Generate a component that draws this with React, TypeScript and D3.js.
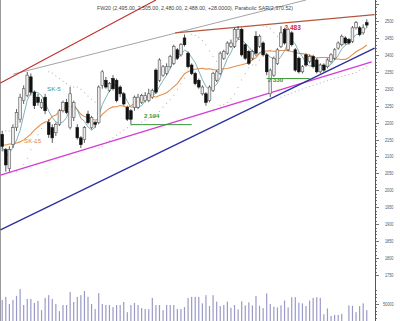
import React from "react";
import * as d3 from "d3";

// ---- data ----
const opens = [2165,2120,2065,2135,2185,2210,2265,2280,2335,2290,2275,2245,2275,2200,2185,2170,2195,2235,2260,2185,2215,2185,2155,2150,2225,2185,2200,2200,2310,2325,2295,2330,2325,2305,2285,2245,2235,2245,2245,2260,2265,2265,2275,2355,2325,2340,2345,2365,2375,2415,2400,2450,2405,2370,2345,2325,2285,2285,2265,2295,2325,2345,2390,2405,2425,2425,2450,2475,2430,2410,2390,2455,2425,2435,2400,2285,2340,2375,2425,2475,2415,2465,2415,2390,2350,2400,2380,2395,2385,2350,2370,2365,2380,2390,2420,2430,2450,2445,2440,2480,2480,2465,2495];
const highs = [2175,2125,2130,2195,2240,2285,2310,2350,2345,2295,2285,2270,2285,2210,2195,2200,2240,2265,2270,2305,2265,2195,2160,2190,2235,2220,2205,2310,2355,2335,2320,2340,2330,2310,2290,2250,2240,2280,2285,2285,2290,2300,2300,2360,2390,2370,2375,2400,2430,2420,2435,2460,2410,2375,2350,2330,2310,2290,2310,2350,2355,2410,2415,2440,2445,2480,2485,2480,2435,2415,2415,2470,2460,2440,2405,2360,2395,2420,2485,2480,2480,2470,2420,2395,2370,2405,2400,2400,2390,2375,2375,2390,2405,2420,2440,2460,2455,2450,2485,2500,2485,2490,2505];
const lows = [2115,2055,2055,2125,2175,2200,2255,2275,2280,2240,2250,2240,2225,2155,2140,2160,2190,2230,2225,2180,2205,2150,2125,2140,2195,2180,2185,2195,2300,2300,2290,2295,2260,2275,2250,2205,2195,2235,2240,2255,2260,2260,2270,2285,2320,2335,2340,2360,2370,2385,2395,2425,2360,2340,2310,2300,2280,2250,2260,2290,2320,2340,2385,2400,2420,2420,2445,2395,2385,2370,2385,2400,2420,2395,2340,2275,2335,2370,2420,2430,2410,2425,2350,2345,2345,2365,2375,2360,2345,2345,2350,2360,2375,2385,2415,2425,2430,2430,2435,2475,2455,2460,2480];
const closes = [2130,2075,2120,2185,2230,2275,2300,2340,2290,2250,2260,2260,2235,2165,2155,2195,2235,2260,2230,2285,2260,2155,2135,2185,2200,2215,2195,2305,2350,2305,2315,2300,2265,2285,2255,2210,2210,2275,2275,2280,2280,2285,2295,2290,2385,2365,2365,2395,2425,2390,2430,2430,2365,2345,2315,2305,2305,2260,2305,2345,2350,2405,2410,2435,2435,2475,2475,2400,2390,2375,2410,2405,2455,2400,2350,2355,2390,2415,2465,2435,2475,2430,2355,2350,2365,2370,2395,2365,2350,2370,2355,2385,2400,2415,2435,2455,2435,2435,2480,2495,2460,2480,2488];
const volumes = [62000,71000,50000,62000,74000,94000,47000,65000,65000,53000,59000,32000,68000,76000,65000,50000,29000,47000,47000,85000,56000,71000,76000,88000,71000,50000,35000,82000,50000,47000,47000,41000,47000,47000,56000,26000,47000,53000,47000,38000,35000,35000,68000,47000,47000,32000,47000,47000,47000,35000,35000,41000,68000,71000,71000,71000,52000,76000,44000,76000,57000,44000,47000,57000,39000,47000,34000,58000,46000,55000,46000,74000,45000,38000,81000,50000,42000,40000,46000,60000,40000,70000,70000,54000,52000,44000,60000,68000,70000,68000,20000,37000,15000,18000,18000,21000,0,46000,45000,26000,44000,52000,32000];
// SK-15 values for the first candles (history before the visible window)
const ma15Lead = [2134,2134,2137,2137,2140,2143,2149,2157,2166,2178,2187,2196,2202,2205];
const priceTicks = [2500,2450,2400,2350,2300,2250,2200,2150,2100,2050,2000,1950,1900,1850,1800,1750];
const volumeTicks = [50000];
const titleText = "FW20 (2,495.00, 2,505.00, 2,480.00, 2,488.00, +28.0000), Parabolic SAR(2,370.52)";
// trend lines: [index, price] endpoints
const trendRed = [[-0.5, 2317], [43, 2562]];
const trendGray = [[3.1, 2343], [85, 2562]];
const trendBrown = [[48.4, 2465], [104.2, 2519]];
const trendBlue = [[-0.5, 1883], [104.2, 2420]];
const trendMagenta = [[-0.5, 2045], [103.4, 2379]];
const support1 = { level: 2194, from: 36, to: 53, label: "2 194" };
const support2 = { level: 2330, from: 74, to: 86, label: "2 330" };
const resistLabel = { level: 2483, at: 79, label: "2 483" };

function sma(vals: number[], n: number, lead?: number[]) {
  return vals.map((_, i) => {
    if (i < n - 1) {
      if (lead && i < lead.length) return lead[i];
      const s = vals.slice(0, i + 1);
      return d3.mean(s) as number;
    }
    return d3.mean(vals.slice(i - n + 1, i + 1)) as number;
  });
}

function psar(high: number[], low: number[], step = 0.02, max = 0.2) {
  const out: number[] = [];
  let up = false;
  let af = step;
  let ep = low[0];
  let sar = high[0];
  out.push(sar);
  for (let i = 1; i < high.length; i++) {
    sar = sar + af * (ep - sar);
    if (up) {
      sar = Math.min(sar, low[i - 1], i > 1 ? low[i - 2] : low[i - 1]);
      if (low[i] < sar) { up = false; sar = ep; ep = low[i]; af = step; }
      else if (high[i] > ep) { ep = high[i]; af = Math.min(af + step, max); }
    } else {
      sar = Math.max(sar, high[i - 1], i > 1 ? high[i - 2] : high[i - 1]);
      if (high[i] > sar) { up = true; sar = ep; ep = high[i]; af = step; }
      else if (low[i] < ep) { ep = low[i]; af = Math.min(af + step, max); }
    }
    out.push(sar);
  }
  return out;
}

export default function App() {
  const W = 400, H = 321;
  const n = closes.length;
  const idx = d3.range(n);
  const xb = d3.scaleBand<number>().domain(idx).range([0, 369]).padding(0.25);
  const step = xb.step();
  const xc = (i: number) => (xb(0) as number) + xb.bandwidth() / 2 + i * step;
  const y = d3.scaleLinear().domain([1750, 2500]).range([275, 21]);
  const yv = d3.scaleLinear().domain([0, 50000]).range([321, 304]);
  const axisX = 375;

  const ma5 = sma(closes, 5);
  const ma15 = sma(closes, 15, ma15Lead);
  const sar = psar(highs, lows);

  const line = d3.line<number>().x((_, i) => xc(i)).y((d) => y(d));
  const seg = (p: number[][]) => ({ x1: xc(p[0][0]), y1: y(p[0][1]), x2: xc(p[1][0]), y2: y(p[1][1]) });

  const font = "'Liberation Sans', Arial, sans-serif";
  const minor = d3.range(1750, 2561, 10);
  const vMinor = d3.range(0, 90001, 10000);

  return (
    <svg width={W} height={H} style={{ position: "absolute", left: 0, top: 0, background: "#fff" }} fontFamily={font}>
      <rect width={W} height={H} fill="#fff" />
      {/* left frame */}
      <line x1={0.5} x2={0.5} y1={0} y2={H} stroke="#9a9a9a" strokeWidth={1} />
      {/* volume */}
      {volumes.map((v, i) => (
        <rect key={"v" + i} x={xc(i) - 0.6} y={yv(v)} width={1.2} height={Math.max(0, yv(0) - yv(v))} fill="#9a9ac8" />
      ))}
      {/* trend lines */}
      <line {...seg(trendMagenta)} stroke="#d63ad6" strokeWidth={1.3} />
      <line {...seg(trendBlue)} stroke="#2b2fa0" strokeWidth={1.3} />
      <line {...seg(trendGray)} stroke="#9a9a9a" strokeWidth={0.9} />
      <line {...seg(trendRed)} stroke="#c0302a" strokeWidth={1.1} />
      <line {...seg(trendBrown)} stroke="#b3583e" strokeWidth={1.3} />
      {/* parabolic SAR */}
      {sar.map((s, i) => (
        <rect key={"s" + i} x={xc(i) - 0.5} y={y(s) - 0.5} width={1} height={1} fill="#b0b0b0" />
      ))}
      {/* moving averages */}
      <path d={line(ma15) || ""} fill="none" stroke="#e4914e" strokeWidth={1.1} />
      <path d={line(ma5) || ""} fill="none" stroke="#5f9ea6" strokeWidth={0.8} />
      {/* candles */}
      {closes.map((c, i) => {
        const o = opens[i];
        const up = c >= o;
        const top = y(Math.max(o, c));
        const bot = y(Math.min(o, c));
        const bw = xb.bandwidth();
        return (
          <g key={"c" + i}>
            <line x1={xc(i)} x2={xc(i)} y1={y(highs[i])} y2={y(lows[i])} stroke="#333" strokeWidth={0.8} />
            <rect x={xc(i) - bw / 2} y={top} width={bw} height={Math.max(0.8, bot - top)}
              fill={up ? "#ececec" : "#111"} stroke={up ? "#555" : "#111"} strokeWidth={0.6} />
          </g>
        );
      })}
      {/* support / resistance levels */}
      <line x1={xc(support1.from)} x2={xc(support1.to)} y1={y(support1.level)} y2={y(support1.level)} stroke="#3c963c" strokeWidth={1} />
      <text x={xc(support1.from) + 13} y={y(support1.level) - 7} fontSize={6.2} fill="#3c963c" fontWeight="bold">{support1.label}</text>
      <line x1={xc(support2.from)} x2={xc(support2.to)} y1={y(support2.level)} y2={y(support2.level)} stroke="#3c963c" strokeWidth={1} />
      <text x={xc(support2.from) + 1} y={y(support2.level) + 3} fontSize={6.2} fill="#3c963c" fontWeight="bold">{support2.label}</text>
      <text x={xc(resistLabel.at)} y={y(resistLabel.level) + 3} fontSize={6.5} fill="#d02a2a" fontWeight="bold">{resistLabel.label}</text>
      {/* MA labels */}
      <text x={47} y={91} fontSize={6.2} fill="#3f8f90">SK-5</text>
      <text x={24} y={143} fontSize={6.2} fill="#e08a3c">SK-15</text>
      {/* title */}
      <text x={97} y={10} fontSize={6} fill="#444" textLength={196} lengthAdjust="spacingAndGlyphs">{titleText}</text>
      {/* right axis */}
      <line x1={axisX + 0.5} x2={axisX + 0.5} y1={0} y2={H} stroke="#555" strokeWidth={1} />
      {minor.map((p) => (
        <line key={"m" + p} x1={axisX} x2={axisX + (p % 50 === 0 ? 4 : 2)} y1={Math.round(y(p)) + 0.5} y2={Math.round(y(p)) + 0.5} stroke="#555" strokeWidth={0.8} />
      ))}
      {priceTicks.map((p) => (
        <text key={"t" + p} x={385} y={y(p) + 2} fontSize={5} fill="#555" textLength={8.5} lengthAdjust="spacingAndGlyphs">{p}</text>
      ))}
      {vMinor.map((v) => (
        <line key={"vm" + v} x1={axisX} x2={axisX + (v % 50000 === 0 ? 4 : 2)} y1={Math.round(yv(v)) + 0.5} y2={Math.round(yv(v)) + 0.5} stroke="#555" strokeWidth={0.8} />
      ))}
      {volumeTicks.map((v) => (
        <text key={"vt" + v} x={383} y={yv(v) + 2} fontSize={5} fill="#555" textLength={10.5} lengthAdjust="spacingAndGlyphs">{v}</text>
      ))}
    </svg>
  );
}
